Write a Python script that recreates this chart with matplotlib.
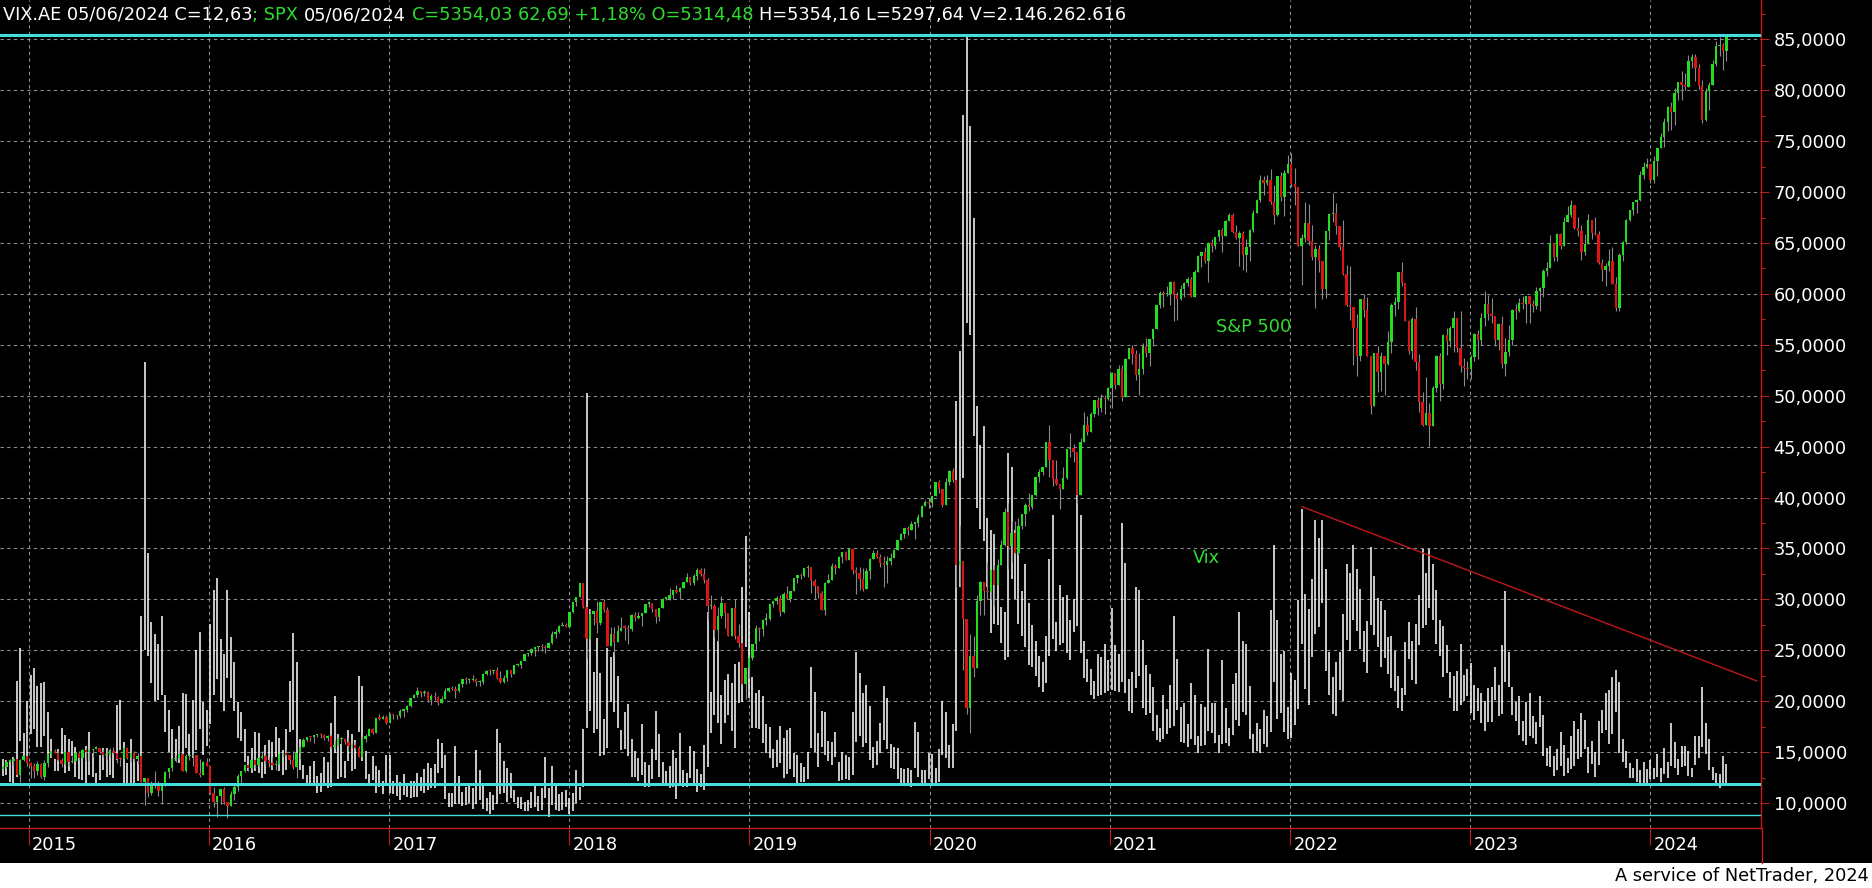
import matplotlib
matplotlib.use('Agg')
import matplotlib.pyplot as plt
import matplotlib.dates as mdates
import matplotlib.transforms as mtransforms
from matplotlib.lines import Line2D
from matplotlib.patches import Rectangle
from matplotlib.ticker import FixedLocator, FuncFormatter, MultipleLocator
import numpy as np
import pandas as pd

plt.rcParams['font.family'] = ['DejaVu Sans']

# weekly bars, first bar = week of Mon 2014-11-10, last = week of Mon 2024-06-03
first_week = '2014-11-10'

# VIX weekly high / low (one block per year)
vix_high = [
    14.3, 14.2, 14.1, 14.5, 22.0, 25.2, 16.9, 20.0,
    22.6, 23.3, 21.5, 21.8, 21.9, 18.9, 16.3, 14.3, 15.3, 17.4, 16.7, 16.3, 16.1, 15.5, 14.7, 14.6, 15.6, 17.0, 14.9, 13.0, 14.7,
    15.4, 15.4, 15.2, 15.0, 19.6, 20.1, 16.0, 13.9, 16.3, 14.6, 14.1, 28.4, 53.3, 34.6, 27.8, 26.6, 25.6, 28.4, 20.6, 19.1, 17.3, 16.3,
    17.6, 20.8, 20.7, 16.8, 20.1, 25.0, 26.8, 19.9, 19.1,
    27.6, 30.9, 32.1, 26.1, 24.6, 30.9, 26.3, 23.9, 19.9, 18.9, 17.3, 14.6, 15.4, 17.0, 16.9, 14.0, 15.7, 16.2, 16.0, 17.5, 16.4, 15.2,
    17.3, 22.0, 26.7, 23.9, 16.3, 13.7, 12.8, 13.6, 14.1, 12.7, 13.0, 14.5, 14.0, 17.9, 20.5, 16.8, 15.8, 14.1, 17.2, 16.8, 16.2, 22.5,
    21.5, 15.1, 12.9, 14.6, 13.6, 13.2, 12.2, 14.7,
    14.7, 12.2, 12.8, 12.1, 12.9, 12.0, 12.2, 12.2, 13.0, 12.6, 13.3, 13.9, 13.4, 13.8, 16.3, 15.9, 14.7, 11.0, 11.0, 15.6, 12.7, 11.1,
    11.6, 12.0, 11.5, 15.2, 13.2, 12.0, 10.5, 11.1, 10.8, 17.3, 15.9, 14.1, 13.4, 13.0, 11.3, 10.6, 10.6, 10.1, 10.3, 11.1, 11.9, 10.7,
    11.5, 14.5, 11.5, 13.6, 11.9, 10.9, 11.1, 11.3,
    10.5, 11.0, 13.2, 11.6, 17.3, 50.3, 29.1, 22.9, 26.2, 22.8, 18.3, 25.2, 24.3, 24.8, 22.5, 17.2, 18.9, 19.7, 16.3, 15.1, 14.4, 17.8,
    14.0, 13.7, 15.3, 19.0, 16.8, 14.0, 13.1, 13.6, 15.2, 14.4, 16.9, 13.2, 13.0, 15.6, 15.1, 13.3, 12.9, 15.7, 28.8, 20.9, 27.5, 25.9,
    20.6, 22.1, 22.7, 21.8, 23.7, 23.9, 31.2, 36.2, 28.8,
    22.4, 20.8, 21.1, 20.5, 17.8, 17.5, 15.3, 16.2, 17.6, 16.4, 17.2, 17.4, 14.9, 14.7, 13.9, 13.5, 15.0, 23.4, 20.9, 16.9, 19.0,
    18.9, 16.1, 16.0, 17.0, 14.0, 15.0, 14.7, 14.5, 18.9, 24.8, 22.8, 20.8, 21.6, 19.5, 15.5, 16.1, 17.9, 21.5, 20.3, 15.8, 15.5, 15.4,
    13.4, 13.3, 13.4, 13.2, 18.0, 17.0, 13.2, 13.2, 14.9,
    14.8, 13.4, 15.3, 20.0, 18.9, 15.7, 17.8, 49.5, 54.4, 77.6, 85.5, 76.5, 67.5, 49.0, 45.2, 47.0, 38.0, 36.8, 36.4, 31.4, 29.3,
    28.8, 44.4, 43.0, 36.8, 36.1, 30.8, 33.5, 29.6, 27.5, 25.9, 24.4, 23.9, 26.4, 34.0, 38.3, 27.8, 31.4, 30.2, 30.4, 28.0, 30.0, 41.2,
    38.3, 25.9, 24.1, 23.2, 22.0, 24.6, 24.3, 25.6, 24.0,
    29.2, 25.5, 24.6, 37.5, 33.6, 22.2, 22.9, 31.2, 30.9, 26.0, 23.6, 22.7, 21.4, 18.6, 17.4, 20.6, 19.2, 21.6, 28.4, 24.1, 19.4, 19.8,
    17.8, 21.8, 20.6, 16.6, 19.7, 19.4, 25.1, 19.8, 19.8, 16.7, 24.0, 19.3, 17.4, 21.7, 22.8, 28.8, 25.9, 25.6, 21.5, 16.8, 17.9,
    17.3, 19.1, 18.5, 29.0, 35.3, 28.0, 24.6, 24.9, 19.4,
    22.8, 22.1, 29.9, 38.9, 30.5, 29.1, 32.0, 37.8, 36.0, 37.8, 33.0, 24.8, 22.4, 23.9, 24.8, 28.6, 33.5, 32.6, 35.3, 33.0, 31.0, 26.9,
    27.9, 35.1, 32.3, 30.1, 29.8, 29.0, 26.3, 26.4, 24.9, 22.5, 21.3, 25.8, 27.8, 25.9, 27.6, 30.4, 34.9, 32.6, 34.9, 33.5, 30.9, 28.0,
    27.4, 25.5, 22.9, 22.5, 23.0, 25.6, 22.6, 23.2,
    23.8, 21.6, 21.3, 20.8, 20.0, 21.3, 21.4, 23.4, 21.6, 25.5, 30.8, 24.8, 21.4, 19.9, 20.5, 18.1, 19.9, 20.8, 18.5, 18.0, 20.5, 18.6,
    15.4, 15.6, 14.6, 15.3, 17.0, 15.7, 14.4, 16.6, 18.1, 17.3, 18.8, 18.2, 15.5, 16.1, 15.0, 18.1, 19.1, 20.8, 21.1, 22.4, 23.1, 21.9,
    16.3, 15.1, 13.9, 13.4, 14.3, 13.2, 14.0, 13.3,
    14.2, 13.4, 14.8, 13.4, 15.4, 14.0, 17.9, 16.0, 14.3, 15.6, 15.6, 15.1, 13.4, 16.6, 16.6, 21.4, 17.9, 16.3, 13.5, 13.0, 12.9, 14.6,
    13.8,
]
vix_low = [
    12.7, 12.8, 12.1, 11.9, 12.6, 16.1, 14.3, 14.6,
    16.8, 17.3, 15.5, 15.5, 16.6, 14.7, 14.4, 13.1, 13.1, 14.8, 13.0, 13.1, 14.6, 12.6, 12.4, 12.3, 12.0, 12.8, 12.6, 11.8, 12.3,
    13.2, 12.6, 12.8, 12.5, 14.2, 15.2, 11.8, 11.9, 12.0, 12.0, 12.2, 12.6, 25.0, 24.4, 21.8, 20.0, 20.1, 20.6, 17.0, 15.0, 13.6, 14.1,
    13.9, 14.5, 15.4, 14.6, 14.4, 15.2, 17.3, 14.7, 15.6,
    17.8, 20.6, 22.2, 19.9, 19.0, 22.3, 20.3, 19.0, 16.4, 16.1, 14.0, 13.1, 13.0, 13.1, 13.0, 12.5, 12.9, 14.2, 13.2, 14.5, 13.1, 12.8,
    13.2, 17.0, 17.2, 14.8, 13.2, 12.4, 11.9, 12.0, 11.9, 11.0, 11.1, 11.9, 11.5, 11.6, 14.9, 12.4, 12.6, 12.5, 14.1, 13.1, 13.3, 17.0,
    14.1, 12.4, 11.9, 12.3, 11.0, 11.6, 10.9, 11.7,
    11.0, 10.9, 10.7, 10.3, 10.8, 10.6, 10.5, 10.6, 10.6, 11.2, 11.0, 11.3, 11.5, 11.5, 13.0, 13.4, 10.4, 9.6, 9.6, 9.9, 9.9, 9.7,
    9.8, 10.0, 9.4, 9.9, 10.3, 9.4, 9.2, 8.9, 9.3, 9.9, 10.9, 11.0, 10.1, 10.5, 10.1, 9.5, 9.4, 9.2, 9.2, 9.5, 9.6, 9.2,
    9.3, 10.5, 8.6, 9.8, 9.3, 9.2, 9.3, 9.6,
    8.9, 9.2, 10.0, 10.3, 11.6, 17.4, 19.0, 16.9, 17.3, 14.6, 14.7, 15.4, 19.9, 18.9, 17.4, 15.2, 15.3, 14.6, 12.6, 12.6, 12.2, 12.8,
    11.6, 11.6, 12.4, 14.2, 12.6, 12.0, 11.8, 11.5, 11.6, 10.4, 12.0, 11.6, 11.6, 12.5, 12.0, 11.1, 11.6, 11.3, 13.5, 16.9, 18.6, 17.9,
    15.8, 17.9, 18.6, 17.1, 15.4, 19.8, 19.9, 25.3, 20.3,
    17.4, 17.4, 17.3, 15.9, 14.9, 14.4, 13.4, 13.5, 13.9, 12.5, 12.9, 13.3, 12.6, 12.0, 12.1, 12.1, 12.4, 15.4, 15.0, 13.5, 15.5,
    14.7, 14.1, 13.7, 14.5, 12.2, 12.3, 12.4, 12.3, 12.8, 16.0, 16.6, 15.5, 15.9, 14.2, 13.4, 13.7, 14.9, 16.2, 15.3, 13.4, 13.3, 12.4,
    11.9, 11.8, 11.9, 11.6, 13.4, 12.6, 11.8, 11.9, 12.4,
    11.8, 11.8, 12.1, 14.7, 14.4, 13.4, 13.4, 17.1, 31.2, 41.9, 57.1, 56.0, 46.0, 39.0, 36.9, 35.7, 31.2, 26.7, 27.6, 27.5, 25.7,
    24.0, 24.3, 32.0, 30.0, 27.6, 26.4, 25.3, 23.6, 23.4, 22.5, 21.4, 20.9, 21.8, 24.4, 26.1, 24.9, 25.5, 25.7, 24.7, 24.0, 26.8, 27.4,
    24.7, 22.3, 21.9, 20.6, 20.2, 20.5, 20.6, 20.8, 21.0,
    21.1, 21.0, 20.9, 21.9, 20.8, 19.0, 18.8, 21.3, 22.5, 19.3, 18.6, 18.8, 17.1, 16.2, 16.0, 16.3, 16.8, 17.4, 17.6, 19.1, 16.0, 15.9,
    15.5, 16.3, 15.7, 14.9, 15.6, 15.7, 17.1, 16.9, 15.9, 14.9, 15.8, 15.9, 15.6, 16.7, 18.2, 17.6, 18.9, 18.6, 16.3, 14.9, 15.1,
    14.9, 15.8, 15.5, 17.0, 21.9, 18.3, 18.8, 17.0, 16.3,
    16.4, 17.7, 19.2, 25.6, 21.2, 19.6, 24.3, 26.6, 27.3, 29.6, 23.0, 20.6, 18.7, 18.5, 21.1, 20.0, 26.0, 24.9, 28.0, 26.9, 25.1, 23.9,
    22.8, 27.5, 26.5, 25.3, 23.4, 24.2, 22.7, 21.3, 21.0, 19.3, 19.0, 20.6, 24.1, 22.1, 21.7, 25.5, 27.2, 27.5, 29.2, 28.0, 25.6, 24.4,
    22.4, 22.8, 20.3, 19.0, 19.0, 19.6, 20.0, 20.5,
    18.8, 18.2, 19.0, 17.9, 17.1, 18.0, 18.0, 20.1, 18.5, 18.7, 21.9, 21.4, 18.6, 18.1, 16.7, 16.1, 15.7, 16.6, 16.4, 15.8, 17.5, 14.6,
    13.6, 13.5, 12.7, 13.2, 13.6, 12.7, 13.0, 13.3, 13.6, 14.3, 14.5, 15.3, 13.0, 13.8, 12.6, 13.7, 16.9, 17.2, 15.8, 16.8, 18.9, 14.9,
    14.0, 13.4, 12.5, 12.5, 12.1, 11.8, 11.9, 11.8,
    12.4, 12.4, 12.6, 12.1, 12.9, 12.5, 13.6, 13.4, 12.8, 13.5, 13.6, 12.7, 12.6, 13.7, 14.4, 15.5, 14.8, 13.2, 12.3, 11.9, 11.5, 11.9,
    11.9,
]

# S&P 500 weekly close / high / low (index points)
spx_first_open = 2032.0
spx_close = [
    2039.8, 2063.5, 2067.6, 2075.4, 2002.3, 2070.7, 2088.8, 2058.2,
    2044.8, 2019.4, 2051.8, 1995.0, 2055.5, 2097.0, 2110.3, 2104.5, 2071.3, 2053.4, 2108.1, 2061.0, 2067.0, 2102.1, 2081.2, 2117.7,
    2108.3, 2116.1, 2122.7, 2126.1, 2107.4, 2092.8, 2094.1, 2110.0, 2101.5, 2076.8, 2076.6, 2126.6, 2079.7, 2103.8, 2077.6, 2091.5,
    1970.9, 1988.9, 1921.2, 1961.1, 1958.0, 1931.3, 1951.4, 2014.9, 2033.1, 2075.2, 2079.4, 2099.2, 2023.0, 2089.2, 2090.1, 2091.7,
    2012.4, 2005.6, 2061.0, 2043.9,
    1922.0, 1880.3, 1906.9, 1940.2, 1880.1, 1864.8, 1917.8, 1948.1, 2000.0, 2022.2, 2049.6, 2035.9, 2072.8, 2047.6, 2080.7, 2091.6,
    2065.3, 2057.1, 2046.6, 2052.3, 2099.1, 2099.1, 2096.1, 2071.2, 2037.4, 2103.0, 2129.9, 2161.7, 2175.0, 2173.6, 2182.9, 2184.1,
    2183.9, 2169.0, 2180.0, 2128.0, 2139.2, 2164.7, 2168.3, 2153.7, 2133.0, 2141.2, 2126.4, 2085.2, 2164.4, 2181.9, 2213.4, 2192.0,
    2259.5, 2258.1, 2263.8, 2238.8,
    2277.0, 2274.6, 2271.3, 2294.7, 2297.4, 2316.1, 2351.2, 2367.3, 2383.1, 2372.6, 2378.3, 2344.0, 2362.7, 2355.5, 2329.0, 2348.7,
    2384.2, 2399.3, 2390.9, 2381.7, 2415.8, 2439.1, 2431.8, 2433.2, 2438.3, 2423.4, 2425.2, 2459.3, 2472.5, 2472.1, 2476.8, 2441.3,
    2425.6, 2443.1, 2476.6, 2461.4, 2500.2, 2502.2, 2519.4, 2549.3, 2553.2, 2575.2, 2581.1, 2587.8, 2582.3, 2578.9, 2602.4, 2642.2,
    2651.5, 2675.8, 2683.3, 2673.6,
    2743.2, 2786.2, 2810.3, 2872.9, 2762.1, 2619.6, 2732.2, 2747.3, 2691.3, 2786.6, 2752.0, 2588.3, 2640.9, 2604.5, 2656.3, 2670.1,
    2669.9, 2663.4, 2727.7, 2713.0, 2721.3, 2734.6, 2779.0, 2779.7, 2754.9, 2718.4, 2759.8, 2801.3, 2801.8, 2818.8, 2840.4, 2833.3,
    2850.1, 2874.7, 2901.5, 2871.7, 2905.0, 2929.7, 2914.0, 2885.6, 2767.1, 2767.8, 2658.7, 2723.1, 2781.0, 2736.3, 2632.6, 2760.2,
    2633.1, 2600.0, 2416.6, 2485.7, 2531.9,
    2596.3, 2670.7, 2664.8, 2706.5, 2707.9, 2775.6, 2792.7, 2803.7, 2743.1, 2822.5, 2800.7, 2834.4, 2892.7, 2907.4, 2905.0, 2939.9,
    2945.6, 2881.4, 2859.5, 2826.1, 2752.1, 2873.3, 2887.0, 2950.5, 2941.8, 2990.4, 3013.8, 2976.6, 3025.9, 2932.1, 2918.7, 2888.7,
    2847.1, 2926.5, 2978.7, 3007.4, 2992.1, 2961.8, 2952.0, 2970.3, 2986.2, 3022.6, 3066.9, 3093.1, 3120.5, 3110.3, 3141.0, 3145.9,
    3168.8, 3221.2, 3240.0, 3234.9,
    3265.4, 3329.6, 3295.5, 3225.5, 3327.7, 3380.2, 3337.8, 2954.2, 2972.4, 2711.0, 2304.9, 2541.5, 2488.7, 2789.8, 2874.6, 2836.7,
    2830.7, 2929.8, 2863.7, 2955.5, 3044.3, 3193.9, 3041.3, 3097.7, 3009.1, 3130.0, 3185.0, 3224.7, 3215.6, 3271.1, 3351.3, 3372.9,
    3397.2, 3508.0, 3427.0, 3341.0, 3319.5, 3298.5, 3348.4, 3477.1, 3483.8, 3465.4, 3270.0, 3509.4, 3585.2, 3557.5, 3638.4, 3699.1,
    3663.5, 3709.4, 3703.1, 3756.1,
    3824.7, 3768.3, 3841.5, 3714.2, 3886.8, 3934.8, 3906.7, 3811.2, 3841.9, 3943.3, 3913.1, 3974.5, 4019.9, 4128.8, 4185.5, 4180.2,
    4181.2, 4232.6, 4173.9, 4155.9, 4204.1, 4229.9, 4247.4, 4166.5, 4280.7, 4352.3, 4369.6, 4327.2, 4411.8, 4395.3, 4436.5, 4468.0,
    4441.7, 4509.4, 4535.4, 4458.6, 4433.0, 4455.5, 4357.0, 4391.3, 4471.4, 4544.9, 4605.4, 4697.5, 4682.9, 4698.0, 4594.6, 4538.4,
    4712.0, 4620.6, 4725.8, 4766.2,
    4677.0, 4662.9, 4397.9, 4431.9, 4500.5, 4418.6, 4348.9, 4384.7, 4328.9, 4204.3, 4463.1, 4543.1, 4545.9, 4488.3, 4392.6, 4271.8,
    4131.9, 4123.3, 4023.9, 3901.4, 4158.2, 4108.5, 3900.9, 3674.8, 3911.7, 3825.3, 3899.4, 3863.2, 3961.6, 4130.3, 4145.2, 4280.2,
    4228.5, 4057.7, 3924.3, 4067.4, 3873.3, 3693.2, 3585.6, 3639.7, 3583.1, 3752.8, 3901.1, 3770.6, 3992.9, 3965.3, 4026.1, 4071.7,
    3934.4, 3852.4, 3844.8, 3839.5,
    3895.1, 3999.1, 3972.6, 4070.6, 4136.5, 4090.5, 4079.1, 3970.0, 4045.6, 3861.6, 3916.6, 3971.0, 4109.3, 4105.0, 4137.6, 4133.5,
    4169.5, 4136.3, 4124.1, 4192.0, 4205.5, 4282.4, 4298.9, 4409.6, 4348.3, 4450.4, 4399.0, 4505.4, 4536.3, 4582.2, 4478.0, 4464.1,
    4369.7, 4405.7, 4515.8, 4457.5, 4450.3, 4320.1, 4288.1, 4308.5, 4327.8, 4224.2, 4117.4, 4358.3, 4415.2, 4514.0, 4559.3, 4594.6,
    4604.4, 4719.2, 4754.6, 4769.8,
    4697.2, 4783.8, 4839.8, 4891.0, 4958.6, 5026.6, 5005.6, 5088.8, 5137.1, 5123.7, 5117.1, 5234.2, 5254.4, 5204.3, 5123.4, 4967.2,
    5100.0, 5127.8, 5222.7, 5303.3, 5304.7, 5277.5, 5354.0,
]
spx_high = [
    2046, 2071, 2075, 2079, 2075, 2077, 2094, 2091,
    2064, 2056, 2065, 2057, 2072, 2097, 2111, 2119, 2117, 2080, 2114, 2114, 2089, 2106, 2111, 2120,
    2126, 2120, 2123, 2134, 2126, 2121, 2115, 2127, 2130, 2103, 2085, 2129, 2132, 2114, 2112, 2105,
    2103, 1990, 1990, 1976, 2021, 1975, 1953, 2021, 2034, 2080, 2094, 2116, 2100, 2097, 2095, 2104,
    2094, 2077, 2068, 2081,
    2038, 1950, 1908, 1940, 1947, 1881, 1930, 1963, 2009, 2022, 2053, 2053, 2075, 2067, 2084, 2111,
    2099, 2084, 2084, 2072, 2099, 2106, 2120, 2096, 2113, 2104, 2132, 2169, 2176, 2176, 2185, 2188,
    2193, 2187, 2184, 2187, 2163, 2176, 2175, 2169, 2169, 2148, 2154, 2133, 2182, 2189, 2214, 2214,
    2260, 2278, 2274, 2274,
    2283, 2280, 2277, 2301, 2299, 2319, 2352, 2368, 2401, 2383, 2390, 2382, 2370, 2378, 2361, 2361,
    2399, 2400, 2404, 2406, 2418, 2440, 2446, 2441, 2454, 2443, 2435, 2463, 2479, 2484, 2478, 2490,
    2474, 2454, 2480, 2475, 2500, 2509, 2520, 2553, 2557, 2576, 2582, 2589, 2597, 2590, 2605, 2657,
    2665, 2680, 2695, 2692,
    2743, 2787, 2811, 2873, 2870, 2763, 2754, 2747, 2789, 2787, 2802, 2762, 2675, 2672, 2680, 2718,
    2683, 2682, 2732, 2743, 2742, 2736, 2779, 2790, 2776, 2747, 2760, 2805, 2810, 2848, 2841, 2863,
    2855, 2877, 2916, 2901, 2912, 2941, 2939, 2940, 2895, 2817, 2778, 2763, 2815, 2775, 2730, 2760,
    2800, 2685, 2601, 2489, 2539,
    2598, 2681, 2671, 2709, 2738, 2776, 2793, 2814, 2816, 2831, 2860, 2838, 2893, 2910, 2917, 2940,
    2954, 2932, 2892, 2860, 2836, 2878, 2911, 2964, 2959, 2996, 3014, 3018, 3028, 3027, 2945, 2943,
    2939, 2940, 2985, 3021, 3022, 3002, 2993, 2993, 3008, 3027, 3067, 3098, 3121, 3128, 3154, 3148,
    3183, 3226, 3247, 3258,
    3268, 3330, 3338, 3285, 3347, 3385, 3393, 3259, 3136, 2883, 2562, 2641, 2631, 2818, 2880, 2845,
    2965, 2932, 2955, 2980, 3068, 3211, 3233, 3155, 3155, 3165, 3185, 3233, 3280, 3272, 3352, 3387,
    3399, 3509, 3588, 3425, 3429, 3321, 3398, 3479, 3550, 3502, 3440, 3529, 3646, 3628, 3645, 3701,
    3712, 3726, 3723, 3760,
    3826, 3823, 3860, 3859, 3889, 3937, 3950, 3928, 3914, 3960, 3983, 3975, 4020, 4129, 4192, 4195,
    4218, 4238, 4237, 4187, 4219, 4234, 4255, 4256, 4287, 4356, 4372, 4393, 4415, 4430, 4440, 4469,
    4480, 4513, 4546, 4548, 4492, 4466, 4466, 4429, 4475, 4559, 4608, 4718, 4715, 4718, 4744, 4672,
    4713, 4731, 4740, 4808,
    4818, 4749, 4664, 4453, 4596, 4589, 4490, 4400, 4402, 4327, 4465, 4546, 4637, 4593, 4471, 4513,
    4309, 4308, 4081, 4091, 4158, 4178, 4168, 3837, 3913, 3946, 3919, 3875, 4013, 4140, 4167, 4281,
    4325, 4204, 4062, 4077, 4119, 3908, 3737, 3806, 3685, 3762, 3906, 3911, 4001, 4028, 4034, 4101,
    4052, 4101, 3889, 3878,
    3906, 4003, 4015, 4095, 4195, 4176, 4160, 4051, 4049, 4079, 3981, 4040, 4110, 4133, 4164, 4170,
    4170, 4168, 4154, 4213, 4213, 4291, 4323, 4448, 4409, 4458, 4456, 4527, 4578, 4607, 4584, 4528,
    4491, 4452, 4542, 4514, 4527, 4467, 4338, 4320, 4385, 4394, 4256, 4366, 4418, 4521, 4560, 4596,
    4609, 4738, 4778, 4794,
    4754, 4803, 4842, 4907, 4976, 5030, 5048, 5111, 5141, 5190, 5179, 5262, 5265, 5264, 5222, 5150,
    5114, 5139, 5239, 5325, 5342, 5315, 5354.2,
]
spx_low = [
    2030, 2034, 2064, 2049, 2002, 1972, 2069, 2046,
    1992, 1988, 2004, 1989, 1980, 2041, 2085, 2103, 2067, 2039, 2050, 2045, 2056, 2066, 2072, 2081,
    2067, 2067, 2085, 2120, 2104, 2086, 2072, 2083, 2097, 2056, 2044, 2077, 2077, 2063, 2067, 2052,
    1970, 1867, 1904, 1911, 1944, 1908, 1872, 1952, 1990, 2022, 2063, 2075, 2022, 2019, 2070, 2042,
    2012, 1993, 2005, 2043,
    1918, 1857, 1812, 1872, 1872, 1810, 1871, 1891, 1931, 1969, 2016, 2022, 2032, 2033, 2039, 2076,
    2053, 2039, 2043, 2025, 2053, 2086, 2090, 2051, 2032, 1992, 2075, 2131, 2155, 2155, 2148, 2175,
    2169, 2160, 2157, 2127, 2119, 2133, 2145, 2142, 2114, 2124, 2119, 2083, 2084, 2152, 2183, 2187,
    2192, 2253, 2256, 2234,
    2245, 2258, 2259, 2263, 2268, 2288, 2313, 2352, 2357, 2357, 2361, 2335, 2322, 2344, 2322, 2328,
    2364, 2379, 2387, 2353, 2381, 2403, 2415, 2418, 2430, 2406, 2407, 2416, 2455, 2458, 2461, 2437,
    2418, 2418, 2429, 2446, 2474, 2496, 2488, 2520, 2543, 2547, 2544, 2566, 2566, 2557, 2579, 2598,
    2624, 2645, 2676, 2673,
    2682, 2737, 2768, 2808, 2759, 2533, 2622, 2684, 2648, 2681, 2741, 2586, 2594, 2553, 2610, 2660,
    2613, 2594, 2655, 2702, 2708, 2676, 2735, 2765, 2743, 2691, 2699, 2770, 2795, 2795, 2801, 2828,
    2802, 2849, 2877, 2864, 2865, 2886, 2903, 2874, 2710, 2755, 2628, 2604, 2714, 2670, 2631, 2649,
    2621, 2583, 2409, 2347, 2444,
    2524, 2570, 2612, 2631, 2681, 2703, 2765, 2775, 2722, 2735, 2800, 2785, 2848, 2873, 2891, 2898,
    2900, 2825, 2801, 2805, 2750, 2728, 2875, 2887, 2912, 2953, 2964, 2975, 2975, 2914, 2822, 2840,
    2834, 2856, 2892, 2979, 2985, 2946, 2856, 2874, 2952, 2992, 3022, 3066, 3078, 3091, 3114, 3070,
    3125, 3183, 3222, 3213,
    3215, 3264, 3281, 3214, 3223, 3316, 3328, 2855, 2860, 2479, 2280, 2192, 2447, 2576, 2729, 2727,
    2798, 2798, 2766, 2900, 2970, 3039, 2936, 2965, 3004, 2999, 3115, 3128, 3200, 3205, 3268, 3329,
    3361, 3403, 3350, 3310, 3314, 3209, 3324, 3344, 3441, 3419, 3233, 3279, 3511, 3543, 3559, 3622,
    3633, 3647, 3636, 3702,
    3663, 3750, 3775, 3694, 3725, 3884, 3865, 3789, 3723, 3819, 3895, 3853, 3944, 4034, 4118, 4119,
    4173, 4129, 4057, 4062, 4155, 4168, 4217, 4165, 4174, 4279, 4303, 4321, 4233, 4372, 4385, 4422,
    4368, 4445, 4513, 4454, 4427, 4306, 4289, 4278, 4329, 4459, 4548, 4596, 4630, 4672, 4585, 4495,
    4532, 4600, 4531, 4733,
    4662, 4582, 4395, 4222, 4414, 4401, 4335, 4115, 4279, 4157, 4162, 4424, 4506, 4451, 4381, 4268,
    4124, 4062, 3859, 3811, 3876, 4075, 3900, 3637, 3705, 3738, 3743, 3722, 3860, 3911, 4080, 4112,
    4218, 4057, 3907, 3886, 3838, 3647, 3584, 3585, 3491, 3591, 3736, 3698, 3749, 3906, 3939, 3918,
    3918, 3828, 3764, 3796,
    3794, 3877, 3885, 3950, 4037, 4061, 4048, 3943, 3928, 3847, 3809, 3899, 3951, 4069, 4099, 4114,
    4049, 4048, 4098, 4110, 4104, 4166, 4260, 4304, 4328, 4328, 4385, 4401, 4504, 4528, 4474, 4443,
    4335, 4356, 4404, 4430, 4448, 4316, 4238, 4216, 4284, 4223, 4104, 4104, 4329, 4406, 4511, 4537,
    4546, 4599, 4699, 4751,
    4683, 4682, 4714, 4842, 4845, 4918, 4920, 4946, 5057, 5056, 5104, 5117, 5204, 5146, 5107, 4954,
    4963, 5012, 5128, 5211, 5257, 5192, 5234,
]

years = list(range(2015, 2025))
header_parts = [
    ('VIX.AE 05/06/2024 C=12,63', 'white', 0),
    ('; SPX', 'green', 0),
    ('05/06/2024', 'white', 1),
    ('C=5354,03 62,69 +1,18% O=5314,48', 'green', 1),
    ('H=5354,16 L=5297,64 V=2.146.262.616', 'white', 1),
]
hlines = [85.47, 11.9, 8.8]
trend = (('2022-01-25', 39.1), ('2024-08-03', 22.0))

n = len(vix_high)
assert len(vix_low) == n and len(spx_close) == n and len(spx_high) == n and len(spx_low) == n, \
    (len(vix_high), len(vix_low), len(spx_close), len(spx_high), len(spx_low))

# S&P is overlaid on the VIX scale: its min/max mapped onto VIX min/max
def spx_scale(p):
    return 8.56 + (np.asarray(p, float) - 1810.1) * (85.47 - 8.56) / (5354.16 - 1810.1)

x = mdates.date2num(pd.date_range(first_week, periods=n, freq='7D'))
vh = np.array(vix_high)
vl = np.array(vix_low)
c = np.array(spx_close, float)
o = np.concatenate([[spx_first_open], c[:-1]])
h = np.maximum(np.array(spx_high, float), np.maximum(o, c))
l = np.minimum(np.array(spx_low, float), np.minimum(o, c))
so, sc, sh, sl = spx_scale(o), spx_scale(c), spx_scale(h), spx_scale(l)

W, H = 1872, 888
RED = '#c41a1a'
GREEN = '#2edc2e'
CYAN = '#45dcdc'
FS = 12.8

fig = plt.figure(figsize=(W / 100, H / 100), dpi=100, facecolor='black')
fig.patches.append(Rectangle((0, 0), 1, 25 / H, transform=fig.transFigure,
                             facecolor='white', edgecolor='none', zorder=0))
ax = fig.add_axes([0, 60 / H, 1761 / W, 828 / H])
ax.set_facecolor('black')

# VIX bars
ax.vlines(x, vl, vh, color='white', linewidth=1.1, zorder=2)

# S&P candles
up = sc >= so
ax.vlines(x, sl, sh, color='#8a8a8a', linewidth=0.8, zorder=3)
body = np.maximum(np.abs(sc - so), 0.12)
ax.bar(x, body, bottom=np.minimum(so, sc), width=4.8,
       color=np.where(up, '#22dd22', '#dd1414'), edgecolor='none', zorder=4)

for v in hlines:
    ax.axhline(v, color=CYAN, linewidth=2.2 if v > 9 else 1.0, zorder=6)

(t0, v0), (t1, v1) = trend
ax.plot(mdates.date2num(pd.to_datetime([t0, t1])), [v0, v1], color='#c01818', linewidth=1.0, zorder=6)

ax.text(1216 / 1761, 1 - 327 / 828, 'S&P 500', transform=ax.transAxes, color=GREEN,
        fontsize=FS, ha='left', va='center', zorder=7)
ax.text(1193 / 1761, 1 - 558 / 828, 'Vix', transform=ax.transAxes, color=GREEN,
        fontsize=FS, ha='left', va='center', zorder=7)

ax.set_xlim(mdates.date2num(pd.Timestamp('2014-11-04')), mdates.date2num(pd.Timestamp('2024-08-12')))
ax.set_ylim(7.55, 88.86)

# axes styling
for s in ['top', 'left']:
    ax.spines[s].set_visible(False)
for s in ['right', 'bottom']:
    ax.spines[s].set_color(RED)
    ax.spines[s].set_linewidth(1.0)
fig.add_artist(Line2D([1761.5 / W, 1761.5 / W], [25 / H, 60 / H], color=RED, linewidth=1.0))

ax.yaxis.tick_right()
ax.yaxis.set_major_locator(FixedLocator(np.arange(10, 90, 5)))
ax.yaxis.set_minor_locator(MultipleLocator(2.5))
ax.yaxis.set_major_formatter(FuncFormatter(lambda v, p: f'{v:.4f}'.replace('.', ',')))
ax.tick_params(axis='y', which='major', direction='out', length=6, width=0.8, color=RED,
               pad=3, labelcolor='white', labelsize=FS)
ax.tick_params(axis='y', which='minor', direction='out', length=3, width=0.8, color=RED)

ax.set_xticks(mdates.date2num(pd.to_datetime([f'{y}-01-01' for y in years])))
ax.set_xticklabels([str(y) for y in years])
ax.tick_params(axis='x', direction='out', length=12.5, width=0.8, color=RED, pad=0,
               labelcolor='white', labelsize=FS, top=False)
off = mtransforms.ScaledTranslation(0.03, 0, fig.dpi_scale_trans)
for lab in ax.get_xticklabels():
    lab.set_horizontalalignment('left')
    lab.set_verticalalignment('center')
    lab.set_transform(lab.get_transform() + off)

ax.grid(True, color='#8c8c8c', linestyle=(0, (3, 3)), linewidth=0.8)
ax.set_axisbelow(True)

# header: coloured pieces laid end to end
fig.canvas.draw()
rend = fig.canvas.get_renderer()
probe1 = fig.text(0, 0, 'x x', fontsize=FS)
probe2 = fig.text(0, 0, 'xx', fontsize=FS)
space_w = probe1.get_window_extent(rend).width - probe2.get_window_extent(rend).width
probe1.remove()
probe2.remove()
xpos = 3.0
for s, col, gap in header_parts:
    xpos += gap * space_w
    t = fig.text(xpos / W, 1 - 15 / H, s, color=(GREEN if col == 'green' else 'white'),
                 fontsize=FS, ha='left', va='center', zorder=10)
    xpos += t.get_window_extent(rend).width

fig.text(1869 / W, 12 / H, 'A service of NetTrader, 2024', color='black',
         fontsize=FS, ha='right', va='center')

fig.savefig('out.png', dpi=100, facecolor=fig.get_facecolor())
